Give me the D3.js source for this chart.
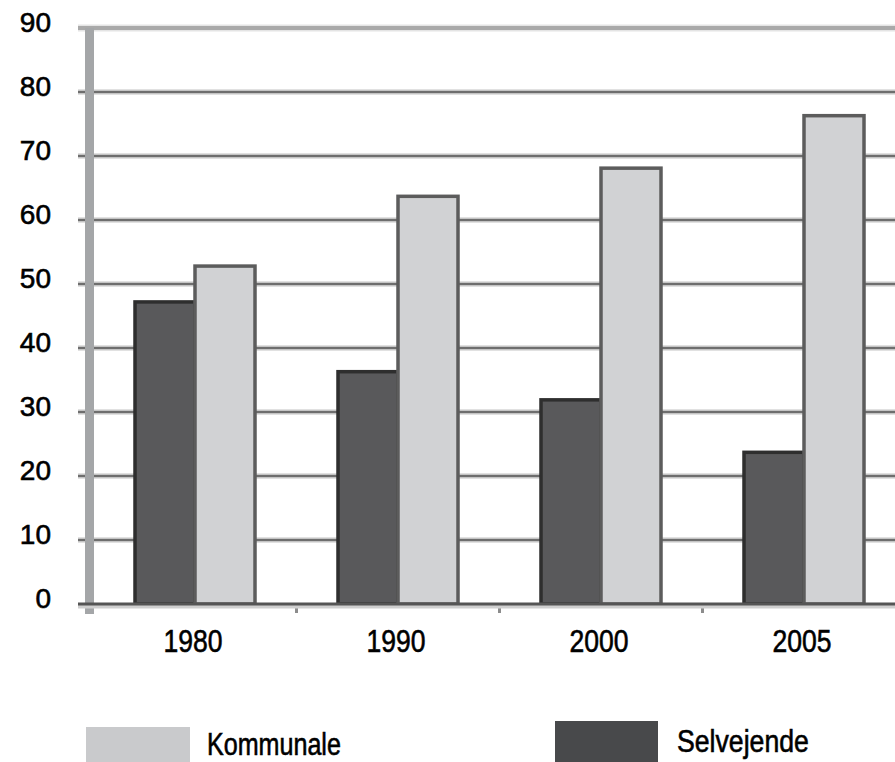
<!DOCTYPE html>
<html>
<head>
<meta charset="utf-8">
<script src="https://cdn.jsdelivr.net/npm/d3@7"></script>
<style>
  html, body { margin: 0; padding: 0; background: #fff; }
  svg { display: block; }
  text { stroke: #000; stroke-width: 0.6px; }
</style>
</head>
<body>
<svg id="chart" width="895" height="762"></svg>
<script>
const years = ["1980", "1990", "2000", "2005"];
const kommunale = [52.8, 63.7, 68.1, 76.3];
const selvejende = [47.2, 36.3, 31.9, 23.7];
const yTicks = [0, 10, 20, 30, 40, 50, 60, 70, 80, 90];
const seriesNames = ["Selvejende", "Kommunale"];
const legendNames = ["Kommunale", "Selvejende"];

const data = years.map((yr, i) => ({ year: yr, Selvejende: selvejende[i], Kommunale: kommunale[i] }));

const svg = d3.select("#chart");
const W = 895, H = 762;
const FONT = "'Liberation Sans', Arial, sans-serif";

const y = d3.scaleLinear().domain([0, 90]).range([604, 28]);
const x0 = d3.scaleBand().domain(years).range([93.5, 905.5]).padding(0);
const x1 = d3.scaleBand().domain(seriesNames).range([x0.bandwidth() / 2 - 60, x0.bandwidth() / 2 + 60]).padding(0);

const fills = { Selvejende: "#59595b", Kommunale: "#d1d2d4" };
const strokes = { Selvejende: "#2e2e2e", Kommunale: "#5c5c5c" };
const legendFills = { Selvejende: "#48494b", Kommunale: "#c9cacc" };

// gridlines
const grid = svg.append("g");
yTicks.filter(v => v > 0).forEach(v => {
  if (v === 90) {
    grid.append("line").attr("x1", 78).attr("x2", W).attr("y1", y(v)).attr("y2", y(v))
      .attr("stroke", "#e4e4e4").attr("stroke-width", 7);
    grid.append("line").attr("x1", 78).attr("x2", W).attr("y1", y(v)).attr("y2", y(v))
      .attr("stroke", "#a9a9a9").attr("stroke-width", 4);
  } else {
    grid.append("line").attr("x1", 78).attr("x2", W).attr("y1", y(v)).attr("y2", y(v))
      .attr("stroke", "#c4c4c4").attr("stroke-width", 5);
    grid.append("line").attr("x1", 78).attr("x2", W).attr("y1", y(v)).attr("y2", y(v))
      .attr("stroke", "#6e6e6e").attr("stroke-width", 2.2);
  }
});

// y axis line
svg.append("rect").attr("x", 85).attr("y", y(90)).attr("width", 9).attr("height", 614 - y(90))
  .attr("fill", "#a4a6a8");

// x ticks at band boundaries
years.slice(1).forEach(yr => {
  svg.append("rect").attr("x", x0(yr) - 1.5).attr("y", y(0)).attr("width", 3).attr("height", 9)
    .attr("fill", "#8c8c8c");
});

// bars
const groups = svg.append("g").selectAll("g").data(data).join("g")
  .attr("transform", d => `translate(${x0(d.year)},0)`);
groups.selectAll("rect").data(d => seriesNames.map(k => ({ key: k, value: d[k] }))).join("rect")
  .attr("x", d => x1(d.key))
  .attr("y", d => y(d.value))
  .attr("width", x1.bandwidth())
  .attr("height", d => y(0) - y(d.value))
  .attr("fill", d => fills[d.key])
  .attr("stroke", d => strokes[d.key])
  .attr("stroke-width", 3.5);

// baseline
svg.append("line").attr("x1", 78).attr("x2", W).attr("y1", y(0) + 2).attr("y2", y(0) + 2)
  .attr("stroke", "#cfcfcf").attr("stroke-width", 5);
svg.append("line").attr("x1", 78).attr("x2", W).attr("y1", y(0)).attr("y2", y(0))
  .attr("stroke", "#555").attr("stroke-width", 3);

// y labels
svg.append("g").selectAll("text").data(yTicks).join("text")
  .attr("x", 51)
  .attr("y", d => y(d) + 4)
  .attr("text-anchor", "end")
  .attr("font-family", FONT)
  .attr("font-size", 28)
  .attr("fill", "#000")
  .text(d => d);

// x labels (condensed via horizontal scale)
svg.append("g").selectAll("text").data(years).join("text")
  .attr("transform", d => `translate(${x0(d) + x0.bandwidth() / 2 - 2},652) scale(0.83,1)`)
  .attr("text-anchor", "middle")
  .attr("font-family", FONT)
  .attr("font-size", 32)
  .attr("fill", "#000")
  .text(d => d);

// legend
const legendPos = {
  Kommunale: { sx: 86, sy: 727, sw: 104, tx: 207, ty: 755 },
  Selvejende: { sx: 555, sy: 721, sw: 103, tx: 677, ty: 752 }
};
legendNames.forEach(name => {
  const p = legendPos[name];
  svg.append("rect").attr("x", p.sx).attr("y", p.sy).attr("width", p.sw).attr("height", H - p.sy + 10)
    .attr("fill", legendFills[name]);
  svg.append("text").attr("transform", `translate(${p.tx},${p.ty}) scale(${name === "Kommunale" ? 0.81 : 0.86},1)`)
    .attr("font-family", FONT)
    .attr("font-size", 31)
    .attr("fill", "#000")
    .text(name);
});
</script>
</body>
</html>
